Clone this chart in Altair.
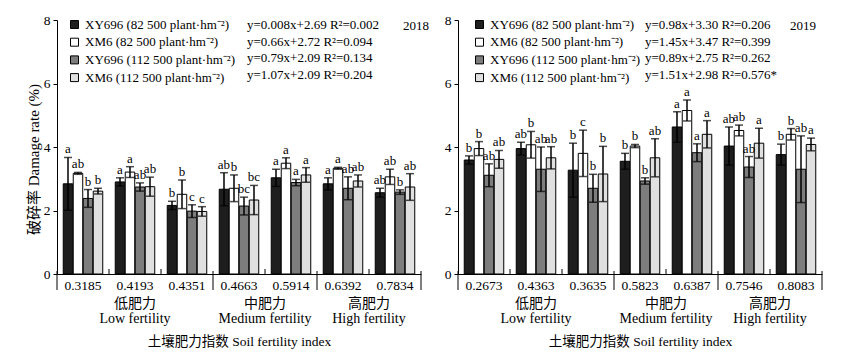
import altair as alt
import pandas as pd

FONT = "Liberation Serif, Noto Sans CJK SC, serif"
FS = 13
W, H = 364, 254
P_IN, P_OUT = 0.24, 0.12
STEP = W / 7
GAP = P_OUT * STEP

SERIES = ["XY696 (82 500 plant·hm⁻²)", "XM6 (82 500 plant·hm⁻²)",
          "XY696 (112 500 plant·hm⁻²)", "XM6 (112 500 plant·hm⁻²)"]
FILLS = ["#1e1e1e", "#ffffff", "#7d7d7d", "#e0e0e0"]

CLASS_CN = ["低肥力", "中肥力", "高肥力"]
CLASS_EN = ["Low fertility", "Medium fertility", "High fertility"]
CLASS_SIZES = [3, 2, 2]

# ---- 2018 ----
IDX_2018 = ["0.3185", "0.4193", "0.4351", "0.4663", "0.5914", "0.6392", "0.7834"]
MEAN_2018 = [
    [2.84, 2.90, 2.16, 2.67, 3.03, 2.84, 2.56],
    [3.17, 3.21, 2.51, 2.70, 3.49, 3.33, 3.06],
    [2.38, 2.74, 1.98, 2.14, 2.88, 2.70, 2.58],
    [2.61, 2.75, 1.97, 2.33, 3.12, 2.93, 2.74],
]
ERR_2018 = [
    [0.83, 0.13, 0.13, 0.52, 0.27, 0.19, 0.14],
    [0.03, 0.17, 0.45, 0.42, 0.17, 0.03, 0.24],
    [0.28, 0.13, 0.20, 0.28, 0.10, 0.36, 0.07],
    [0.09, 0.30, 0.15, 0.46, 0.23, 0.19, 0.42],
]
LET_2018 = [
    ["a", "a", "b", "ab", "a", "a", "ab"],
    ["ab", "a", "b", "b", "a", "a", "ab"],
    ["b", "ab", "c", "bc", "a", "ab", "b"],
    ["b", "ab", "c", "bc", "a", "ab", "ab"],
]
EQ_2018 = ["y=0.008x+2.69  R²=0.002", "y=0.66x+2.72  R²=0.094",
           "y=0.79x+2.09  R²=0.134", "y=1.07x+2.09  R²=0.204"]

# ---- 2019 ----
IDX_2019 = ["0.2673", "0.4363", "0.3635", "0.5823", "0.6387", "0.7546", "0.8083"]
MEAN_2019 = [
    [3.59, 3.95, 3.27, 3.55, 4.63, 4.03, 3.76],
    [3.95, 4.07, 3.80, 4.03, 5.15, 4.52, 4.40],
    [3.11, 3.30, 2.70, 2.93, 3.82, 3.37, 3.30],
    [3.61, 3.66, 3.15, 3.66, 4.40, 4.12, 4.08],
]
ERR_2019 = [
    [0.13, 0.20, 0.85, 0.25, 0.48, 0.60, 0.33],
    [0.22, 0.42, 0.73, 0.05, 0.33, 0.17, 0.18],
    [0.36, 0.70, 0.44, 0.10, 0.28, 0.33, 1.05],
    [0.28, 0.35, 0.87, 0.60, 0.43, 0.47, 0.20],
]
LET_2019 = [
    ["b", "ab", "b", "b", "a", "ab", "b"],
    ["b", "b", "c", "b", "a", "ab", "b"],
    ["ab", "ab", "b", "b", "a", "ab", "ab"],
    ["ab", "ab", "b", "ab", "a", "a", "a"],
]
EQ_2019 = ["y=0.98x+3.30  R²=0.206", "y=1.45x+3.47  R²=0.399",
           "y=0.89x+2.75  R²=0.262", "y=1.51x+2.98  R²=0.576*"]

XTITLE = "土壤肥力指数 Soil fertility index"
YTITLE = "破碎率 Damage rate (%)"


def panel(year, idx, means, errs, lets, eqs, left, legx, eqx, yearx):
    rows = []
    for si, s in enumerate(SERIES):
        for gi, g in enumerate(idx):
            m, e = means[si][gi], errs[si][gi]
            rows.append({"group": g, "series": s, "mean": m, "lo": m - e,
                         "hi": m + e, "letter": lets[si][gi]})
    df = pd.DataFrame(rows)

    xscale = alt.Scale(domain=idx, paddingInner=P_IN, paddingOuter=P_OUT)
    xaxis = alt.Axis(labelAngle=0, ticks=False, labelFontSize=13.5, labelPadding=4.5,
                     labelFont=FONT, labelColor="black", domainColor="black",
                     titleFont=FONT, titleFontSize=13.5, titleFontWeight="normal",
                     titleColor="black", titlePadding=42)

    def xp(bp=0.5):
        return alt.X("group:N", sort=idx, scale=xscale, axis=xaxis, title=XTITLE,
                     bandPosition=bp)

    xo = alt.XOffset("series:N", sort=SERIES,
                     scale=alt.Scale(domain=SERIES, paddingInner=0.05, paddingOuter=0))
    yscale = alt.Scale(domain=[0, 8], nice=False)
    ykw = dict(values=[0, 2, 4, 6, 8], grid=False, tickSize=4, labelFontSize=13.5,
               labelFont=FONT, labelColor="black", domainColor="black",
               tickColor="black", labelPadding=3)
    if left:
        ykw.update(titleFont=FONT, titleFontSize=15, titleFontWeight="normal",
                   titleColor="black", titlePadding=2, titleY=139)
    yaxis = alt.Axis(**ykw)
    ytitle = YTITLE if left else None

    def yp(f):
        return alt.Y(f, scale=yscale, axis=yaxis, title=ytitle)

    bars = alt.Chart(df).mark_bar(stroke="black", strokeWidth=1).encode(
        x=xp(), xOffset=xo, y=yp("mean:Q"),
        fill=alt.Fill("series:N", sort=SERIES,
                      scale=alt.Scale(domain=SERIES, range=FILLS),
                      legend=alt.Legend(orient="none", legendX=legx, legendY=-2,
                                        title=None, symbolType="square", symbolSize=64,
                                        symbolStrokeColor="black", symbolStrokeWidth=1,
                                        labelFont=FONT, labelFontSize=FS,
                                        labelColor="black", labelLimit=400,
                                        labelOffset=4, rowPadding=3.7, padding=0)))
    err = alt.Chart(df).mark_rule(color="black", strokeWidth=1.5).encode(
        x=xp(), xOffset=xo, y=yp("lo:Q"), y2="hi:Q")
    cap_hi = alt.Chart(df).mark_tick(color="black", thickness=1.5, size=8).encode(
        x=xp(), xOffset=xo, y=yp("hi:Q"))
    cap_lo = alt.Chart(df).mark_tick(color="black", thickness=1.5, size=8).encode(
        x=xp(), xOffset=xo, y=yp("lo:Q"))
    letters = alt.Chart(df).mark_text(baseline="bottom", dy=-1, font=FONT,
                                      fontSize=FS, color="black").encode(
        x=xp(), xOffset=xo, y=yp("hi:Q"), text="letter:N")

    # group boundaries: long ones between fertility classes and at both ends
    starts = [0]
    for n in CLASS_SIZES:
        starts.append(starts[-1] + n)
    long_before = pd.DataFrame({"group": [idx[s] for s in starts[:-1]]})
    short_before = pd.DataFrame({"group": [idx[i] for i in range(len(idx)) if i not in starts]})
    end_df = pd.DataFrame({"group": [idx[-1]]})
    long_r = alt.Chart(long_before).mark_rule(color="black", strokeWidth=1, xOffset=-GAP).encode(
        x=xp(0), y=alt.value(H - 3), y2=alt.value(H + 16))
    end_r = alt.Chart(end_df).mark_rule(color="black", strokeWidth=1, xOffset=GAP).encode(
        x=xp(1), y=alt.value(H - 3), y2=alt.value(H + 16))
    short_r = alt.Chart(short_before).mark_rule(color="black", strokeWidth=1, xOffset=-GAP).encode(
        x=xp(0), y=alt.value(H), y2=alt.value(H - 5))

    layers = [bars, err, cap_hi, cap_lo, letters, long_r, end_r, short_r]
    for ci, n in enumerate(CLASS_SIZES):
        s = starts[ci]
        lab = pd.DataFrame({"t": [CLASS_CN[ci] + "\n" + CLASS_EN[ci]],
                            "group": [idx[s + n // 2]]})
        if n % 2 == 1:
            mk, bp = dict(), 0.5
        else:
            mk, bp = dict(xOffset=-GAP), 0
        layers.append(alt.Chart(lab).mark_text(
            font=FONT, fontSize=14, color="black", baseline="top", lineBreak="\n",
            lineHeight=14.5, **mk).encode(x=xp(bp), y=alt.value(H + 23), text="t:N"))

    eq_t = alt.Chart(pd.DataFrame({"t": ["\n".join(eqs)]})).mark_text(
        font=FONT, fontSize=FS, color="black", align="left", baseline="top",
        lineBreak="\n", lineHeight=16.7).encode(
        x=alt.value(eqx), y=alt.value(-1), text="t:N")
    yr_t = alt.Chart(pd.DataFrame({"t": [year]})).mark_text(
        font=FONT, fontSize=FS, color="black", align="left", baseline="middle").encode(
        x=alt.value(yearx), y=alt.value(6), text="t:N")
    layers += [eq_t, yr_t]

    return alt.layer(*layers).properties(width=W, height=H)


left = panel("2018", IDX_2018, MEAN_2018, ERR_2018, LET_2018, EQ_2018, True, 11, 190, 346)
right = panel("2019", IDX_2019, MEAN_2019, ERR_2019, LET_2019, EQ_2019, False, 15, 187, 332)

chart = alt.hconcat(left, right, spacing=15).resolve_scale(fill="independent").resolve_legend(
    fill="independent").properties(
    padding={"left": 18, "top": 5, "right": 5, "bottom": 5}).configure_view(stroke=None)

chart.save("out.html", embed_options={"renderer": "svg", "actions": False})
